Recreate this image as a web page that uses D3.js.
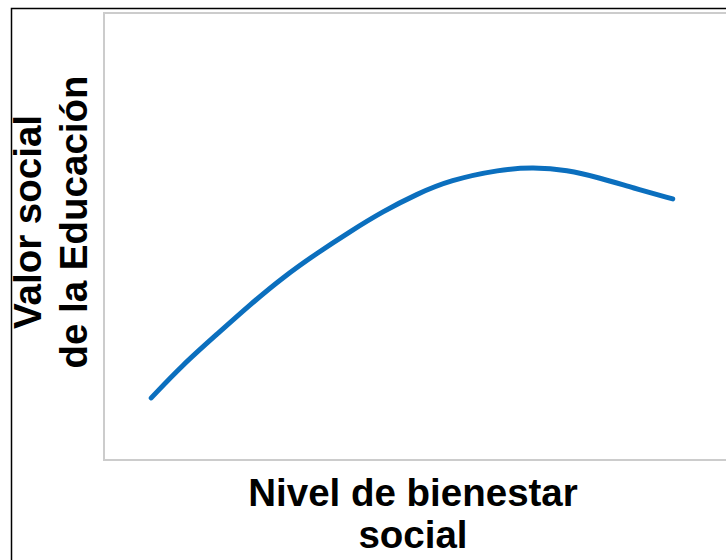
<!DOCTYPE html>
<html>
<head>
<meta charset="utf-8">
<script src="https://cdn.jsdelivr.net/npm/d3@7"></script>
<style>
  body { margin: 0; background: #fff; }
  svg { display: block; }
  .lbl { font-family: "Liberation Sans", Arial, sans-serif; font-weight: bold; font-size: 38.5px; fill: #000; }
</style>
</head>
<body>
<svg id="chart"></svg>
<script>
// curve (arbitrary 0-100 units)
const xVals = [7.2, 12.0, 17.2, 22.3, 27.3, 32.5, 37.5, 42.5, 47.7, 52.7, 60.4, 65.4, 70.6, 75.6, 80.6, 86.7];
const yVals = [13.9, 21.3, 28.1, 34.8, 40.9, 46.3, 51.1, 55.6, 59.5, 62.6, 65.0, 65.5, 64.9, 63.1, 60.9, 58.4];
const xTitle = ['Nivel de bienestar', 'social'];
const yTitle = ['Valor social', 'de la Educación'];

const width = 726;
const height = 560;
const plot = { left: 104, top: 13, right: 760, bottom: 460 };

const svg = d3.select('#chart')
    .attr('width', width)
    .attr('height', height);

// outer black frame (runs off the picture on the right and bottom)
svg.append('rect')
    .attr('x', 11.5).attr('y', 8.5)
    .attr('width', 740).attr('height', 580)
    .attr('fill', 'none')
    .attr('stroke', '#000')
    .attr('stroke-width', 1.5);

const x = d3.scaleLinear().domain([0, 100]).range([plot.left, plot.right]);
const y = d3.scaleLinear().domain([0, 100]).range([plot.bottom, plot.top]);

// grey plot box
svg.append('rect')
    .attr('x', plot.left).attr('y', plot.top)
    .attr('width', plot.right - plot.left)
    .attr('height', plot.bottom - plot.top)
    .attr('fill', 'none')
    .attr('stroke', '#cccccc')
    .attr('stroke-width', 2);

const data = xVals.map((d, i) => [d, yVals[i]]);

const line = d3.line()
    .x(d => x(d[0]))
    .y(d => y(d[1]))
    .curve(d3.curveBasis);

svg.append('path')
    .datum(data)
    .attr('d', line)
    .attr('fill', 'none')
    .attr('stroke', '#0b6fbe')
    .attr('stroke-width', 5)
    .attr('stroke-linecap', 'round');

// x title
svg.selectAll('.xt')
    .data(xTitle)
    .enter().append('text')
    .attr('class', 'lbl xt')
    .attr('x', 413)
    .attr('y', (d, i) => 506 + i * 42)
    .attr('text-anchor', 'middle')
    .text(d => d);

// y title (rotated)
svg.selectAll('.yt')
    .data(yTitle)
    .enter().append('text')
    .attr('class', 'lbl yt')
    .attr('transform', (d, i) => `translate(${41 + i * 46},222) rotate(-90)`)
    .attr('text-anchor', 'middle')
    .text(d => d);
</script>
</body>
</html>
